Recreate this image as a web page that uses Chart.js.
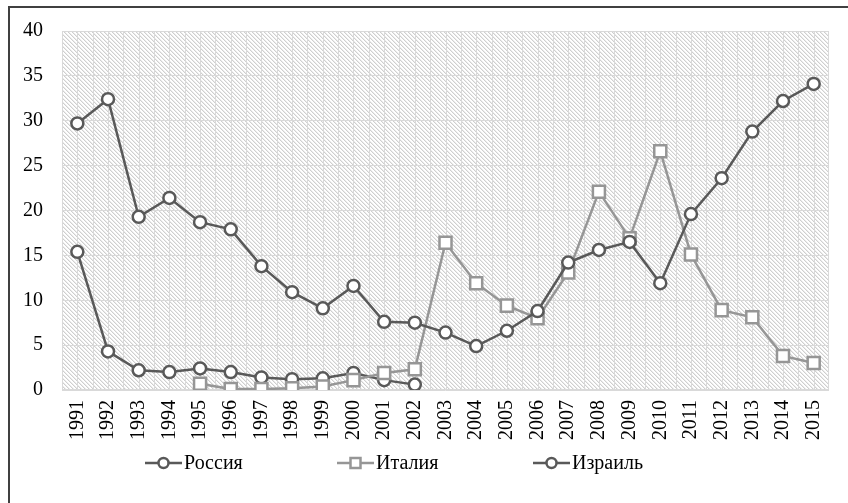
<!DOCTYPE html>
<html>
<head>
<meta charset="utf-8">
<script src="https://cdn.jsdelivr.net/npm/chart.js@4"></script>
<style>
html,body{margin:0;padding:0;background:#fff;}
#wrap{width:848px;height:503px;position:relative;}
</style>
</head>
<body>
<div id="wrap"><canvas id="c" width="848" height="503"></canvas></div>
<script>
const years = ['1991','1992','1993','1994','1995','1996','1997','1998','1999','2000','2001','2002','2003','2004','2005','2006','2007','2008','2009','2010','2011','2012','2013','2014','2015'];
const seriesNames = ['Россия','Италия','Израиль'];
const russia = [29.7,32.4,19.3,21.4,18.7,17.9,13.8,10.9,9.1,11.6,7.6,7.5,6.4,4.9,6.6,8.8,14.2,15.6,16.5,11.9,19.6,23.6,28.8,32.2,34.1];
const italy = [null,null,null,null,0.7,0.1,0.1,0.2,0.4,1.1,1.9,2.3,16.4,11.9,9.4,8.0,13.1,22.1,16.9,26.6,15.1,8.9,8.1,3.8,3.0];
const israel = [15.4,4.3,2.2,2.0,2.4,2.0,1.4,1.2,1.3,1.9,1.1,0.6,null,null,null,null,null,null,null,null,null,null,null,null,null];
const yTicks = [0,5,10,15,20,25,30,35,40];

const DARK = '#595959';
const LIGHT = '#969696';
const FONT = "'Liberation Serif','Times New Roman',serif";

function makePattern(ctx){
  const t = document.createElement('canvas');
  t.width = 4; t.height = 4;
  const g = t.getContext('2d');
  g.fillStyle = '#ffffff'; g.fillRect(0,0,4,4);
  for(let i=0;i<4;i++){
    g.fillStyle = '#cfcfcf'; g.fillRect(i,i,1,1);
    g.fillStyle = '#ececec'; g.fillRect((i+1)%4,i,1,1);
  }
  return ctx.createPattern(t,'repeat');
}

const bgPlugin = {
  id:'bg',
  beforeDraw(chart){
    const {ctx, chartArea:a} = chart;
    ctx.save();
    ctx.fillStyle = makePattern(ctx);
    ctx.fillRect(a.left, a.top, a.right-a.left, a.bottom-a.top);
    ctx.restore();
  },
  beforeDatasetsDraw(chart){
    const {ctx, chartArea:a, scales} = chart;
    const xs = scales.x;
    const step = xs.getPixelForValue(1) - xs.getPixelForValue(0);
    ctx.save();
    ctx.strokeStyle = '#d9d9d9';
    ctx.lineWidth = 1;
    ctx.beginPath();
    for(let i=0;i<years.length;i++){
      const c = xs.getPixelForValue(i);
      for (const x of [c - step/2, c]){
        const px = Math.round(x)+0.5;
        ctx.moveTo(px, a.top); ctx.lineTo(px, a.bottom);
      }
    }
    ctx.stroke();
    ctx.strokeStyle = '#d9d9d9';
    ctx.strokeRect(Math.round(a.left)+0.5, Math.round(a.top)+0.5, Math.round(a.right-a.left)-1, Math.round(a.bottom-a.top)-1);
    ctx.restore();
  },
  afterDraw(chart){
    const {ctx} = chart;
    ctx.save();
    ctx.fillStyle = '#404040';
    ctx.fillRect(8, 6, 840, 2);
    ctx.fillRect(8, 6, 2, 497);
    const items = [
      {name: seriesNames[0], color: DARK, shape:'circle', x:145},
      {name: seriesNames[1], color: LIGHT, shape:'square', x:337},
      {name: seriesNames[2], color: DARK, shape:'circle', x:533}
    ];
    const y = 463;
    ctx.font = '20px ' + FONT;
    ctx.textBaseline = 'middle';
    ctx.textAlign = 'left';
    for (const it of items){
      ctx.strokeStyle = it.color;
      ctx.lineWidth = 2.5;
      ctx.beginPath(); ctx.moveTo(it.x, y); ctx.lineTo(it.x+37, y); ctx.stroke();
      ctx.fillStyle = '#fff';
      ctx.beginPath();
      if (it.shape==='circle'){ ctx.arc(it.x+18.5, y, 5, 0, Math.PI*2); }
      else { ctx.rect(it.x+18.5-5, y-5, 10, 10); }
      ctx.fill(); ctx.stroke();
      ctx.fillStyle = '#000';
      ctx.fillText(it.name, it.x+39, y+1);
    }
    ctx.restore();
  }
};

new Chart(document.getElementById('c'), {
  type:'line',
  data:{
    labels: years,
    datasets:[
      {label: seriesNames[0], data: russia, borderColor: DARK, backgroundColor:'#fff', borderWidth:2.5,
       pointStyle:'circle', pointRadius:6, pointBorderWidth:2.5, pointBackgroundColor:'#fff', pointBorderColor:DARK, tension:0},
      {label: seriesNames[1], data: italy, borderColor: LIGHT, backgroundColor:'#fff', borderWidth:2.5,
       pointStyle:'rect', pointRadius:8.5, pointBorderWidth:2.5, pointBackgroundColor:'#fff', pointBorderColor:LIGHT, tension:0},
      {label: seriesNames[2], data: israel, borderColor: DARK, backgroundColor:'#fff', borderWidth:2.5,
       pointStyle:'circle', pointRadius:6, pointBorderWidth:2.5, pointBackgroundColor:'#fff', pointBorderColor:DARK, tension:0}
    ]
  },
  options:{
    responsive:false,
    animation:false,
    devicePixelRatio:1,
    layout:{padding:{left:10, right:16, top:29, bottom:0}},
    plugins:{legend:{display:false}, tooltip:{enabled:false}},
    scales:{
      x:{
        type:'category',
        offset:true,
        grid:{display:false, drawTicks:false},
        border:{display:false},
        ticks:{minRotation:90, maxRotation:90, autoSkip:false, padding:10, color:'#000', font:{family:FONT, size:20}},
        afterFit(s){ s.height = 113; }
      },
      y:{
        min:0, max:40,
        afterBuildTicks(s){ s.ticks = yTicks.map(v=>({value:v})); },
        grid:{color:'#d9d9d9', lineWidth:1, drawTicks:false},
        border:{display:false},
        ticks:{padding:19, color:'#000', font:{family:FONT, size:20}},
        afterFit(s){ s.width = 52; }
      }
    }
  },
  plugins:[bgPlugin]
});
</script>
</body>
</html>
